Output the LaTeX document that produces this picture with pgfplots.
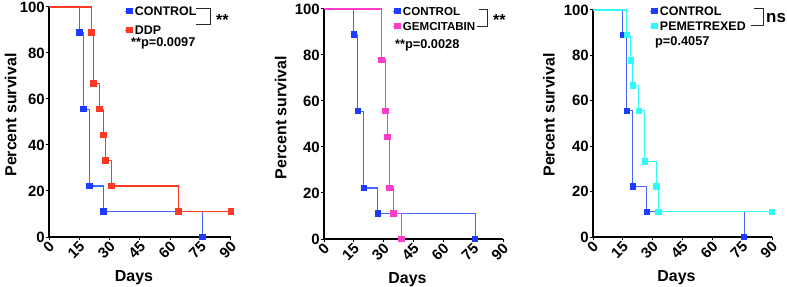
\documentclass[border=0pt]{standalone}
\usepackage{fontspec}
\setmainfont{Liberation Sans}
\usepackage{pgfplots}
\pgfplotsset{compat=1.18}
\usetikzlibrary{calc}
\definecolor{cblue}{RGB}{30,60,255}
\definecolor{lblue}{RGB}{70,100,255}
\definecolor{cred}{RGB}{255,58,36}
\definecolor{cpink}{RGB}{255,60,200}
\definecolor{ccyan}{RGB}{50,250,250}
\definecolor{brk}{RGB}{40,40,40}
\newcommand{\lfont}{\bfseries\fontsize{12.5}{14}\selectfont}
\newcommand{\axfont}{\bfseries\fontsize{16}{18}\selectfont}
\pgfplotsset{km/.style={
  scale only axis, xmin=0,xmax=90,ymin=0,ymax=100,
  axis lines=left, axis line style={line width=1.3bp, -, black},
  xtick={0,15,...,90}, ytick={0,20,...,100},
  tick align=outside, major tick length=3bp, tick style={line width=1bp, black},
  ticklabel style={font=\bfseries\fontsize{15}{15}\selectfont},
  /pgf/number format/assume math mode=true,
  x tick label style={rotate=45, anchor=east, inner sep=1bp, yshift=-5bp},
  y tick label style={inner sep=1bp},
  xlabel={Days}, ylabel={Percent survival},
  every axis x label/.style={at={($(axis description cs:0.5,0)+(-6bp,-33bp)$)}, anchor=north, font=\axfont, inner sep=0pt},
  clip=false,
  legend image code/.code={\draw[mark repeat=2,mark phase=2,#1] plot coordinates {(0bp,0bp)(4bp,0bp)(8bp,0bp)};},
  legend style={draw=none, fill=none, anchor=north west, inner sep=0pt,
    font=\lfont, nodes={inner sep=1bp, text height=9bp, text depth=0bp}},
  legend cell align=left,
}}
\begin{document}
\begin{tikzpicture}
\path[use as bounding box] (0,0) rectangle (787bp,287bp);
% ---------- Panel 1
\begin{axis}[km, at={(49bp,50bp)}, anchor=south west, width=182bp, height=230bp,
  every axis y label/.style={at={($(axis description cs:0,0.5)+(-32.3bp,7bp)$)}, anchor=south, rotate=90, font=\axfont, inner sep=0pt},
  legend style={at={(0.415,1.0065)}, row sep=8bp}]
\addlegendimage{lblue, line width=1.2bp, mark=square*, mark size=2.6bp, mark options={cblue}}
\addlegendentry{CONTROL}
\addlegendimage{cred, line width=1.2bp, mark=square*, mark size=2.6bp}
\addlegendentry{DDP}
\addplot[lblue, line width=1.2bp, const plot, mark=square*, mark size=2.6bp, mark options={cblue}, mark indices={2,3,4,5,6}, forget plot]
 coordinates {(0,100)(15,88.9)(17,55.6)(20,22.2)(27,11.1)(76,0)};
\addplot[cred, line width=1.2bp, const plot, mark=square*, mark size=2.6bp, mark indices={2,3,4,5,6,7,8,9}, forget plot]
 coordinates {(0,100)(21,88.9)(22,66.7)(25,55.6)(27,44.4)(28,33.3)(31,22.2)(64,11.1)(90,11.1)};
\end{axis}
% ---------- Panel 2
\begin{axis}[km, at={(324bp,48bp)}, anchor=south west, width=179bp, height=230bp,
  every axis y label/.style={at={($(axis description cs:0,0.5)+(-37.3bp,6.5bp)$)}, anchor=south, rotate=90, font=\axfont, inner sep=0pt},
  legend style={at={(0.383,1.015)}, row sep=4bp, font=\bfseries\fontsize{11.6}{13}\selectfont}]
\addlegendimage{lblue, line width=1.2bp, mark=square*, mark size=2.6bp, mark options={cblue}}
\addlegendentry{CONTROL}
\addlegendimage{cpink, line width=1.2bp, mark=square*, mark size=2.6bp}
\addlegendentry{GEMCITABIN}
\addplot[lblue, line width=1.2bp, const plot, mark=square*, mark size=2.6bp, mark options={cblue}, mark indices={2,3,4,5,6}, forget plot]
 coordinates {(0,100)(15,88.9)(17,55.6)(20,22.2)(27,11.1)(76,0)};
\addplot[cpink, line width=1.2bp, const plot, mark=square*, mark size=2.6bp, mark indices={2,3,4,5,6,7}, forget plot]
 coordinates {(0,100)(29,77.8)(31,55.6)(32,44.4)(33,22.2)(35,11.1)(39,0)};
\end{axis}
% ---------- Panel 3
\begin{axis}[km, at={(593bp,50bp)}, anchor=south west, width=179bp, height=227bp,
  every axis y label/.style={at={($(axis description cs:0,0.5)+(-38bp,8.5bp)$)}, anchor=south, rotate=90, font=\axfont, inner sep=0pt},
  legend style={at={(0.316,1.0198)}, row sep=4bp}]
\addlegendimage{lblue, line width=1.2bp, mark=square*, mark size=2.6bp, mark options={cblue}}
\addlegendentry{CONTROL}
\addlegendimage{ccyan, line width=1.2bp, mark=square*, mark size=2.6bp}
\addlegendentry{PEMETREXED}
\addplot[lblue, line width=1.2bp, const plot, mark=square*, mark size=2.6bp, mark options={cblue}, mark indices={2,3,4,5,6}, forget plot]
 coordinates {(0,100)(15,88.9)(17,55.6)(20,22.2)(27,11.1)(76,0)};
\addplot[ccyan, line width=1.2bp, const plot, mark=square*, mark size=2.6bp, mark indices={2,3,4,5,6,7,8,9}, forget plot]
 coordinates {(0,100)(17,88.9)(19,77.8)(20,66.7)(23,55.6)(26,33.3)(32,22.2)(33,11.1)(90,11.1)};
\end{axis}
% ---------- annotations
\draw[brk, line width=1bp] (196bp,278bp)--(210bp,278bp)--(210bp,262bp)--(196bp,262bp);
\node[anchor=base west, inner sep=0pt, font=\bfseries\fontsize{16}{18}\selectfont] at (216bp,261bp) {**};
\node[anchor=west, inner sep=0pt, font=\bfseries\fontsize{12.8}{14}\selectfont] at (131bp,244bp) {**p=0.0097};
\draw[brk, line width=1bp] (479bp,277bp)--(487bp,277bp)--(487bp,260bp)--(477bp,260bp);
\node[anchor=base west, inner sep=0pt, font=\bfseries\fontsize{16}{18}\selectfont] at (493bp,261bp) {**};
\node[anchor=west, inner sep=0pt, font=\bfseries\fontsize{12.8}{14}\selectfont] at (395bp,242bp) {**p=0.0028};
\draw[brk, line width=1bp] (754bp,278bp)--(763bp,278bp)--(763bp,261bp)--(751bp,261bp);
\node[anchor=west, inner sep=0pt, font=\bfseries\fontsize{17}{18}\selectfont] at (766bp,269bp) {ns};
\node[anchor=west, inner sep=0pt, font=\bfseries\fontsize{12.8}{14}\selectfont] at (655bp,245bp) {p=0.4057};
\end{tikzpicture}
\end{document}
